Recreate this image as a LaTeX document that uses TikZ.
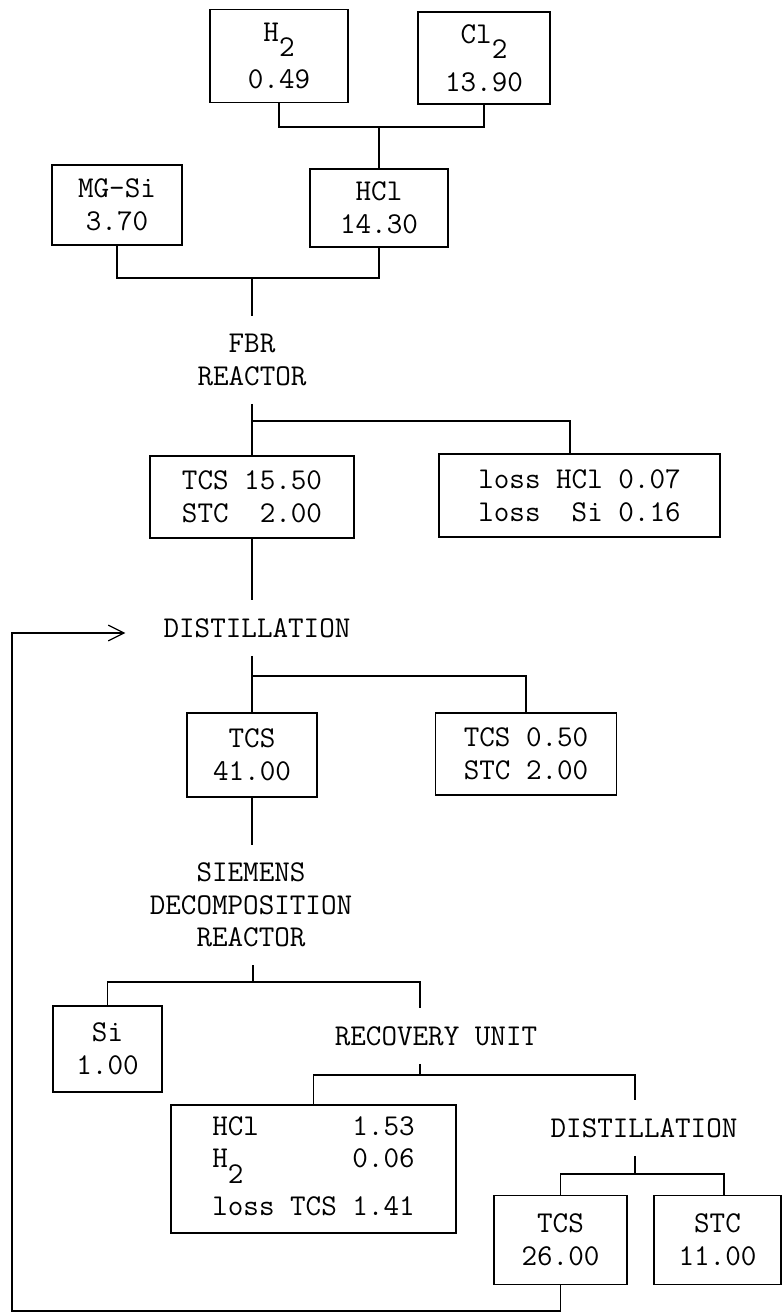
\documentclass[tikz,border=0pt]{standalone}
\usepackage{tikz}
\usetikzlibrary{positioning,arrows.meta}

\newcommand{\lowsub}[1]{\raisebox{-0.5em}[0pt][0pt]{#1}}

\begin{document}
\begin{tikzpicture}[
  x=0.02cm, y=-0.02cm,
  line width=0.7pt,
  every node/.style={font=\ttfamily\fontsize{17.2}{18.6}\selectfont},
  box/.style 2 args={rectangle, draw, inner sep=0pt, align=center,
    minimum width=#1cm, minimum height=#2cm},
  lbl/.style={inner sep=10pt, align=center},
  ret/.style={-{Straight Barb[length=9pt,width=9pt]}}
]
\useasboundingbox (0,0) rectangle (783,1314);

% ── Feed ──
\node[box={2.76}{1.86}] (h2)   at (279,56)  {H\lowsub{2}\\[8.6pt]0.49};
\node[box={2.64}{1.84}] (cl2)  at (484,58)  {Cl\lowsub{2}\\[8.6pt]13.90};
\node[box={2.60}{1.60}] (mgsi) at (117,205) {MG-Si\\3.70};
\node[box={2.76}{1.56}] (hcl)  at (379,208) {HCl\\14.30};

% ── FBR reactor ──
\node[lbl] (fbr) at (252,360) {FBR\\REACTOR};
\node[box={4.08}{1.64}] (fbrout)  at (252,497)   {TCS 15.50\\STC\ \ 2.00};
\node[box={5.62}{1.66}] (fbrloss) at (579.5,495.5) {loss HCl 0.07\\loss\ \ Si 0.16};

% ── First distillation ──
\node[lbl] (dist1) at (257,628) {DISTILLATION};
\node[box={2.60}{1.68}] (tcs1)    at (252,755) {TCS\\41.00};
\node[box={3.62}{1.64}] (tcsloss) at (526,754) {TCS 0.50\\STC 2.00};

% ── Siemens reactor and recovery ──
\node[lbl] (dec) at (251,905) {SIEMENS\\DECOMPOSITION\\REACTOR};
\node[box={2.18}{1.72}] (si) at (107.5,1049) {Si\\1.00};
\node[lbl] (rec) at (436,1036) {RECOVERY UNIT};
\node[box={5.70}{2.56}] (recout) at (313.5,1169)
  {\begin{tabular}{@{}l@{}}
   HCl\ \ \ \ \ \ 1.53\\
   H\lowsub{2}\ \ \ \ \ \ \ 0.06\\[8.6pt]
   loss TCS 1.41
   \end{tabular}};

% ── Second distillation ──
\node[lbl] (dist2) at (644,1128) {DISTILLATION};
\node[box={2.66}{1.78}] (tcs2) at (560.5,1240) {TCS\\26.00};
\node[box={2.54}{1.78}] (stc)  at (717.5,1240) {STC\\11.00};

% ── Join points ──
\coordinate (j1) at (379,127);
\coordinate (j2) at (252,278);
\coordinate (j3) at (252,421);
\coordinate (j4) at (252,676);
\coordinate (j5) at (253,982);
\coordinate (j6) at (420,1075);
\coordinate (j7) at (635,1174);
\coordinate (back) at (12,1311);
\coordinate (arr) at ([xshift=-0.4cm, yshift=-0.1cm]dist1.west);

% ── Connectors ──
\draw (h2.south) |- (j1) -| (cl2.south);
\draw (j1) -- (hcl.north);
\draw (mgsi.south) |- (j2) -| (hcl.south);
\draw (j2) -- (fbr.north);

\draw (fbr.south) -- (fbrout.north);
\draw (j3) -| ([xshift=-0.19cm]fbrloss.north);
\draw (fbrout.south) -- (fbrout.south |- dist1.north);

\draw (dist1.south -| tcs1) -- (tcs1.north);
\draw (j4) -| (tcsloss.north);
\draw (tcs1.south) -- (dec.north -| tcs1);

\draw (dec.south -| j5) -- (j5);
\draw (si.north) |- (j5) -| (rec.north -| j6);
\draw (rec.south -| j6) -- (j6);
\draw (recout.north) |- (j6) -| (dist2.north -| j7);

\draw (dist2.south -| j7) -- (j7);
\draw (tcs2.north) |- (j7) -| ([xshift=0.13cm]stc.north);

% ── TCS recycle ──
\draw[ret] (tcs2.south) |- (back) |- (arr);

\end{tikzpicture}
\end{document}
